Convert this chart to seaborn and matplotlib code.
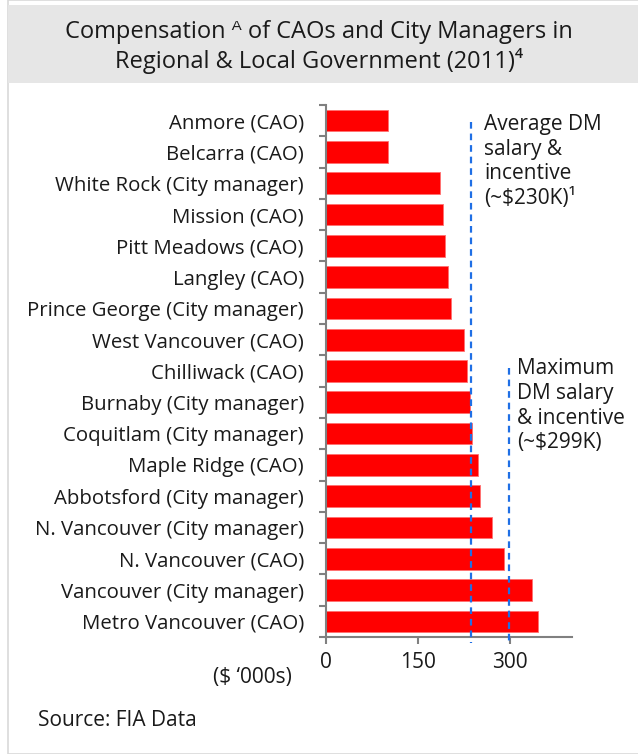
import matplotlib
matplotlib.use("Agg")
import matplotlib.pyplot as plt
from matplotlib.patches import Rectangle
from matplotlib.ticker import FixedLocator
import seaborn as sns
import pandas as pd

# Data ($ '000s)
positions = [
    "Anmore (CAO)", "Belcarra (CAO)", "White Rock (City manager)", "Mission (CAO)",
    "Pitt Meadows (CAO)", "Langley (CAO)", "Prince George (City manager)",
    "West Vancouver (CAO)", "Chilliwack (CAO)", "Burnaby (City manager)",
    "Coquitlam (City manager)", "Maple Ridge (CAO)", "Abbotsford (City manager)",
    "N. Vancouver (City manager)", "N. Vancouver (CAO)", "Vancouver (City manager)",
    "Metro Vancouver (CAO)",
]
compensation = [101, 101, 187, 192, 195, 200, 205, 226, 231, 236, 239, 248, 251, 271, 291, 336, 346]
avg_dm = 237
max_dm = 299
x_ticks = [0, 150, 300]

df = pd.DataFrame({"position": positions, "comp": compensation})

sns.set_style("white")
plt.rcParams["font.family"] = ["Open Sans", "DejaVu Sans"]

fig = plt.figure(figsize=(6.38, 7.54), dpi=100)

# title band and panel frame
fig.patches.append(Rectangle((8 / 638, 0), 1, 1, transform=fig.transFigure,
                             facecolor="white", edgecolor="#d9d9d9", lw=1.2, zorder=-10))
fig.patches.append(Rectangle((8 / 638, 1 - 83 / 754), 1, 78 / 754, transform=fig.transFigure,
                             facecolor="#e6e6e6", edgecolor="none", zorder=-9))
fig.text(0.5, 1 - 47 / 754,
         "Compensation ᴬ of CAOs and City Managers in\nRegional & Local Government (2011)⁴",
         ha="center", va="center", fontsize=17, color="#1a1a1a", linespacing=1.2)

ax = fig.add_axes([326 / 638, 1 - 637 / 754, 246 / 638, 532 / 754])
ax.patch.set_alpha(0)
sns.barplot(data=df, x="comp", y="position", orient="h", color="#ff0000",
            edgecolor="#ff7070", linewidth=0.6, width=0.69, saturation=1, ax=ax)

ax.set_xlim(0, 402)
ax.set_ylim(len(positions) - 0.5, -0.5)
ax.set_xticks(x_ticks)
ax.set_xticklabels([str(t) for t in x_ticks])
ax.set_xlabel("")
ax.set_ylabel("")

ax.yaxis.set_minor_locator(FixedLocator([i - 0.5 for i in range(len(positions) + 1)]))
ax.tick_params(axis="y", which="major", length=0, pad=16, labelsize=14.7, labelcolor="#1a1a1a")
ax.tick_params(axis="y", which="minor", length=5, width=1.5, color="#808080", left=True)
ax.tick_params(axis="x", which="major", length=5, width=1.5, color="#808080", bottom=True,
               pad=6, labelsize=15, labelcolor="#1a1a1a")

for s in ["top", "right"]:
    ax.spines[s].set_visible(False)
for s in ["left", "bottom"]:
    ax.spines[s].set_color("#808080")
    ax.spines[s].set_linewidth(1.5)

# reference lines for DM compensation
ax.plot([avg_dm, avg_dm], [0.05, 16.7], color="#1f6fe5", lw=1.6,
        ls=(0, (3, 2.2)), clip_on=False, zorder=5)
ax.plot([max_dm, max_dm], [7.9, 16.7], color="#1f6fe5", lw=1.6,
        ls=(0, (3, 2.2)), clip_on=False, zorder=5)

ax.text(avg_dm + 22, -0.2, "Average DM\nsalary &\nincentive\n(~$230K)¹",
        ha="left", va="top", fontsize=15, color="#1a1a1a", linespacing=1.22)
ax.text(max_dm + 13, 7.6, "Maximum\nDM salary\n& incentive\n(~$299K)",
        ha="left", va="top", fontsize=15, color="#1a1a1a", linespacing=1.22)

fig.text(292 / 638, 1 - 677 / 754, "($ \u2018000s)", ha="right", va="center",
         fontsize=15, color="#1a1a1a")
fig.text(38 / 638, 1 - 720 / 754, "Source: FIA Data", ha="left", va="center",
         fontsize=15, color="#1a1a1a")

fig.savefig("out.png", dpi=100)
